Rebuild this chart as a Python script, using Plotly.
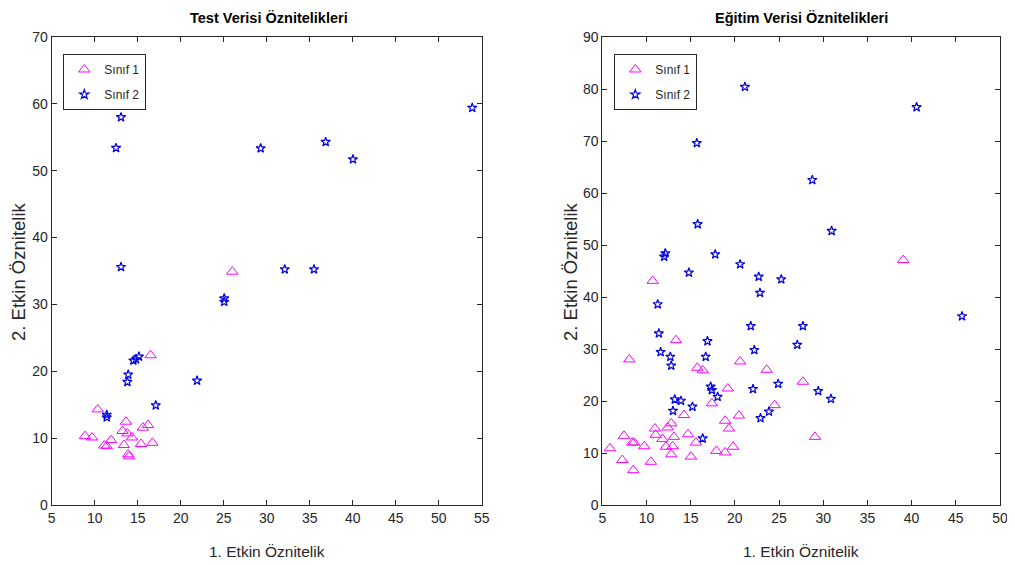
import plotly.graph_objects as go

# ---- Test data (left) ----
test_c1_x = [26.0, 16.5, 10.35, 8.87, 9.69, 11.1, 11.4, 11.9, 13.64, 13.24, 13.8, 14.34, 13.4, 13.9, 13.99, 15.38, 15.6, 16.2, 16.7]
test_c1_y = [34.9, 22.4, 14.3, 10.3, 10.1, 8.9, 8.8, 9.7, 12.46, 11.07, 10.7, 10.1, 8.97, 7.58, 7.28, 9.12, 11.57, 11.97, 9.3]
test_c2_x = [13.06, 12.48, 13.06, 25.06, 25.06, 53.9, 29.3, 36.86, 40.03, 32.1, 35.5, 14.5, 14.8, 15.15, 13.9, 13.8, 17.1, 11.4, 11.4, 21.9]
test_c2_y = [58.0, 53.4, 35.6, 30.9, 30.4, 59.4, 53.35, 54.3, 51.7, 35.25, 35.25, 21.6, 21.8, 22.2, 19.5, 18.4, 14.9, 13.5, 13.1, 18.6]

# ---- Training data (right) ----
train_c1_x = [39.05, 27.7, 29.06, 10.7, 13.34, 8.05, 15.75, 16.36, 20.6, 23.6, 19.2, 24.5, 17.4, 14.24, 20.46, 18.9, 19.33,
              19.8, 17.9, 18.9, 15.03, 15.6, 14.7, 12.8, 12.4, 13.1, 12.96, 12.8, 12.2, 11.8, 10.96, 11.04, 10.5, 9.75,
              8.6, 8.4, 7.45, 7.26, 8.5, 5.87]
train_c1_y = [47.1, 23.7, 13.1, 43.1, 31.7, 28.0, 26.4, 25.9, 27.6, 26.0, 22.4, 19.2, 19.55, 17.3, 17.2, 16.2, 14.7,
              11.2, 10.4, 10.1, 9.3, 12.0, 13.6, 15.7, 14.9, 13.1, 11.3, 9.75, 11.2, 12.7, 14.7, 13.5, 8.3, 11.3,
              12.0, 12.0, 13.3, 8.65, 6.7, 10.9]
train_c2_x = [21.14, 40.56, 15.7, 28.76, 30.95, 45.7, 27.7, 27.06, 29.43, 30.87, 15.79, 12.13, 12.0, 17.78, 20.6, 14.8,
              22.7, 25.25, 22.84, 11.27, 21.8, 11.4, 16.9, 11.6, 22.2, 16.7, 12.7, 12.8, 17.26, 17.4, 18.05, 22.05,
              24.9, 13.2, 13.9, 13.0, 15.2, 22.9, 23.86, 16.36]
train_c2_y = [80.4, 76.5, 69.6, 62.5, 52.7, 36.3, 34.4, 30.8, 21.9, 20.4, 54.0, 48.4, 47.75, 48.2, 46.3, 44.7,
              43.9, 43.4, 40.8, 38.6, 34.4, 33.0, 31.5, 29.4, 29.8, 28.5, 28.5, 26.8, 22.75, 22.1, 20.8, 22.3,
              23.3, 20.3, 20.05, 18.1, 18.9, 16.7, 17.95, 12.8]

labels = ["Sınıf 1", "Sınıf 2"]
titles = ["Test Verisi Öznitelikleri", "Eğitim Verisi Öznitelikleri"]
xlabel = "1. Etkin Öznitelik"
ylabel = "2. Etkin Öznitelik"

MAG = "#FF00FF"
BLU = "#0000E0"
FONT = "Liberation Sans, Arial, sans-serif"
TXT = "#262626"

fig = go.Figure()

def tri(x, y, xa, ya, leg):
    return go.Scatter(x=x, y=y, mode="markers", name=labels[0], xaxis=xa, yaxis=ya, legend=leg,
                      legendgroup=leg + "a",
                      marker=dict(symbol="triangle-up-open", size=10, color=MAG, line=dict(width=1)))

def star(x, y, xa, ya, leg):
    return go.Scatter(x=x, y=y, mode="markers", name=labels[1], xaxis=xa, yaxis=ya, legend=leg,
                      legendgroup=leg + "b",
                      marker=dict(symbol="star-open", size=7, color=BLU, line=dict(width=1.2)))

fig.add_trace(tri(test_c1_x, test_c1_y, "x", "y", "legend"))
fig.add_trace(star(test_c2_x, test_c2_y, "x", "y", "legend"))
fig.add_trace(tri(train_c1_x, train_c1_y, "x2", "y2", "legend2"))
fig.add_trace(star(train_c2_x, train_c2_y, "x2", "y2", "legend2"))

ax_common = dict(showline=True, linecolor=TXT, linewidth=1, mirror="allticks", ticks="inside",
                 ticklen=5, tickcolor=TXT, showgrid=False, zeroline=False, automargin=False,
                 tickfont=dict(family=FONT, size=14, color=TXT))

# the page body adds an 8 px offset, so positions below are shifted by it
OFF = 8
W, H = 1015 - OFF, 565 - OFF

def px(v):
    return (v - OFF) / W

def py(v):
    return 1 - (v - OFF) / H

y_dom = [py(505), py(37)]

leg_common = dict(xanchor="left", yanchor="top", bgcolor="white", bordercolor=TXT, borderwidth=1,
                  font=dict(family=FONT, size=12, color=TXT), itemwidth=30, tracegroupgap=6)

def label(text, x, y, size, angle=0, bold=False):
    t = "<b>" + text + "</b>" if bold else text
    return dict(text=t, x=px(x), y=py(y), xref="paper", yref="paper", xanchor="center", yanchor="middle",
                textangle=angle, showarrow=False,
                font=dict(family=FONT, size=size, color="#000000" if bold else TXT))

fig.update_layout(
    width=W, height=H,
    margin=dict(l=0, r=0, t=0, b=0),
    paper_bgcolor="white", plot_bgcolor="white",
    font=dict(family=FONT, color=TXT),
    xaxis=dict(domain=[px(51.7), px(481.7)], range=[5, 55], dtick=5, anchor="y", **ax_common),
    yaxis=dict(domain=y_dom, range=[0, 70], dtick=10, anchor="x", **ax_common),
    xaxis2=dict(domain=[px(602.3), px(1000)], range=[5, 50], dtick=5, anchor="y2", **ax_common),
    yaxis2=dict(domain=y_dom, range=[0, 90], dtick=10, anchor="x2", **ax_common),
    legend=dict(x=px(63.3), y=py(54), **leg_common),
    legend2=dict(x=px(614.3), y=py(54), **leg_common),
    annotations=[
        label(titles[0], 268.5, 18, 14.5, bold=True),
        label(titles[1], 801, 18, 14.5, bold=True),
        label(xlabel, 266.5, 551, 15.5),
        label(xlabel, 801, 551, 15.5),
        label(ylabel, 18, 272, 18.5, angle=-90),
        label(ylabel, 570, 272, 18.5, angle=-90),
    ],
)

fig.write_html("out.html")
